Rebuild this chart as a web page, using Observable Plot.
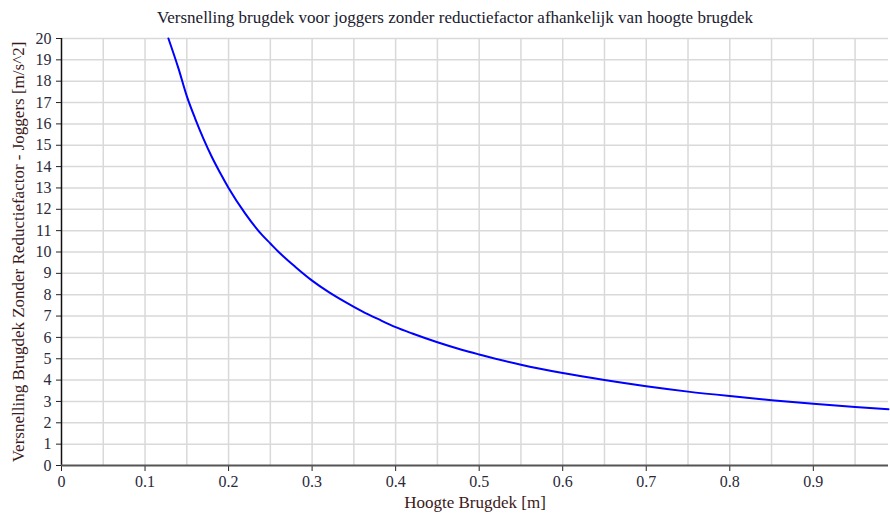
<!DOCTYPE html>
<html><head><meta charset="utf-8">
<script src="https://cdn.jsdelivr.net/npm/d3@7"></script>
<script src="https://cdn.jsdelivr.net/npm/@observablehq/plot@0.6"></script>
<style>
body{margin:0;background:#fff;}
#title{height:28px;width:870px;padding-left:20px;text-align:center;font-family:"Liberation Serif","DejaVu Serif",serif;font-size:17px;color:#1a1a2e;line-height:36px;}
</style>
</head><body>
<div id="title"></div>
<div id="chart"></div>
<script>
const titleText = "Versnelling brugdek voor joggers zonder reductiefactor afhankelijk van hoogte brugdek";
const xLabel = "Hoogte Brugdek [m]";
const yLabel = "Versnelling Brugdek Zonder Reductiefactor - Joggers [m/s^2]";
const hoogte = [0.128,0.14,0.15,0.16,0.17,0.18,0.19,0.20,0.22,0.24,0.25,0.26,0.28,0.30,0.32,0.34,0.35,0.36,0.38,0.40,0.42,0.45,0.48,0.50,0.55,0.60,0.65,0.70,0.75,0.80,0.85,0.90,0.95,0.99];
const versnelling = [20.0,18.6,17.3,16.25,15.3,14.45,13.7,13.0,11.8,10.8,10.4,10.0,9.3,8.66,8.12,7.65,7.43,7.22,6.84,6.48,6.18,5.77,5.41,5.2,4.72,4.33,4.0,3.71,3.46,3.25,3.06,2.89,2.74,2.64];
const xTicks = [0,0.1,0.2,0.3,0.4,0.5,0.6,0.7,0.8,0.9];
const xGrid = [0.05,0.1,0.15,0.2,0.25,0.3,0.35,0.4,0.45,0.5,0.55,0.6,0.65,0.7,0.75,0.8,0.85,0.9,0.95];
const yTicks = [0,1,2,3,4,5,6,7,8,9,10,11,12,13,14,15,16,17,18,19,20];

document.getElementById("title").textContent = titleText;
const data = hoogte.map((h,i)=>({h, a: versnelling[i]}));

const chart = Plot.plot({
  width: 890, height: 486,
  marginTop: 10, marginBottom: 49, marginLeft: 61, marginRight: 2,
  style: {fontFamily: "'Liberation Serif', 'DejaVu Serif', serif", fontSize: "16px", color: "#333", background: "#fff"},
  x: {domain: [0, 0.99]},
  y: {domain: [0, 20]},
  marks: [
    Plot.gridX(xGrid, {stroke: "#d9d9d9", strokeOpacity: 1, strokeWidth: 1.5}),
    Plot.gridY(yTicks.slice(1), {stroke: "#d9d9d9", strokeOpacity: 1, strokeWidth: 1.5}),
    Plot.axisX(xTicks, {tickSize: 6, tickPadding: 4, tickFormat: d => String(d), label: null, stroke: "#222", fill: "#2a2a3a", fontSize: 16}),
    Plot.axisY(yTicks, {tickSize: 5, tickPadding: 5, label: null, stroke: "#222", fill: "#2a2a3a", fontSize: 16}),
    Plot.text([xLabel], {frameAnchor: "bottom", dy: 42, fontSize: 17, fill: "#3a1a1a", lineAnchor: "bottom"}),
    Plot.text([yLabel], {frameAnchor: "left", dx: -43, rotate: -90, textAnchor: "middle", fontSize: 17, fill: "#3a1a1a"}),
    Plot.ruleX([0], {stroke: "#111", strokeWidth: 1.5}),
    Plot.ruleY([0], {stroke: "#555", strokeWidth: 2}),
    Plot.line(data, {x: "h", y: "a", stroke: "#0000ff", strokeWidth: 2, curve: "monotone-x"})
  ]
});
document.getElementById("chart").appendChild(chart);
</script>
</body></html>
